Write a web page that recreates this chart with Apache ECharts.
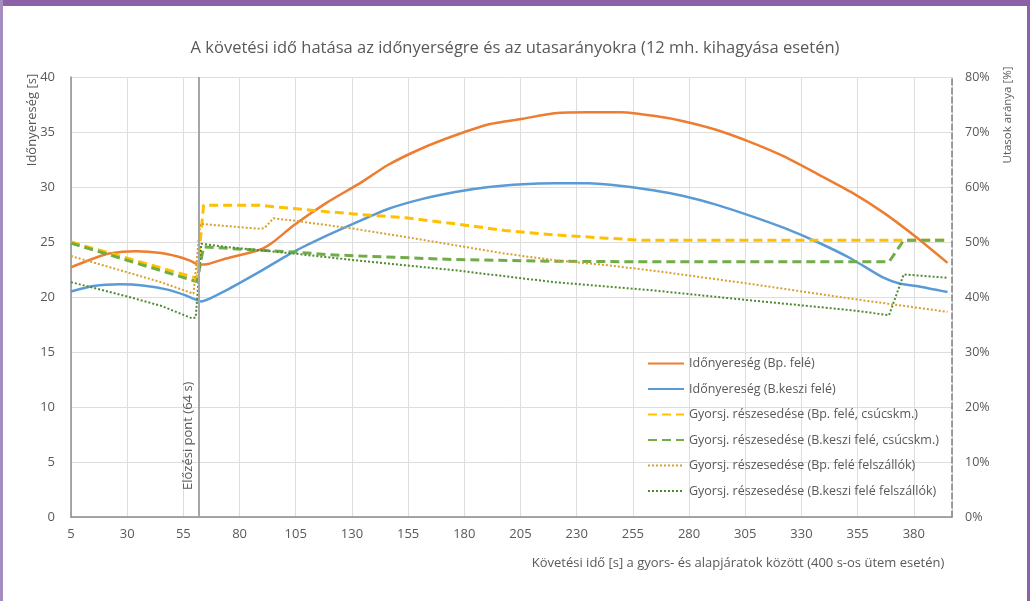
<!DOCTYPE html>
<html>
<head>
<meta charset="utf-8">
<script src="https://cdn.jsdelivr.net/npm/echarts@6/dist/echarts.min.js"></script>
<style>
    html, body { margin: 0; padding: 0; background: #fff; }
    #wrap { position: relative; width: 1030px; height: 601px; overflow: hidden; }
    #myChart { position: absolute; left: 0; top: 0; width: 1030px; height: 601px; }
    .edge { position: absolute; background: #8c61a8; pointer-events: none; }
</style>
</head>
<body>
<div id="wrap">
    <div id="myChart"></div>
    <div class="edge" style="left:0; top:0; width:1030px; height:6px;"></div>
    <div class="edge" style="left:0; top:0; width:3px; height:601px; background:#a58cc0;"></div>
    <div class="edge" style="right:0; top:0; width:3px; height:601px;"></div>
</div>
<script>
    // kovetesi ido [s] -> ertek
    const elozesiPont = 62; // where the vertical line sits in the picture
    const seriesNames = [
        'Időnyereség (Bp. felé)',
        'Időnyereség (B.keszi felé)',
        'Gyorsj. részesedése (Bp. felé, csúcskm.)',
        'Gyorsj. részesedése (B.keszi felé, csúcskm.)',
        'Gyorsj. részesedése (Bp. felé felszállók)',
        'Gyorsj. részesedése (B.keszi felé felszállók)'
    ];

    // idonyereseg [s], left axis
    const nyeresegBp = [
        [5, 22.7], [15, 23.5], [22, 23.95], [34, 24.15], [45, 24.0], [52, 23.7], [58, 23.3], [62, 22.95],
        [66, 23.0], [74, 23.5], [89, 24.3], [95, 25.0], [104, 26.5], [119, 28.6], [134, 30.4],
        [146, 32.0], [161, 33.5], [176, 34.7], [191, 35.7], [206, 36.2], [220, 36.7], [235, 36.8],
        [250, 36.8], [265, 36.45], [277, 36.0], [292, 35.2], [307, 34.1], [322, 32.8], [337, 31.2],
        [352, 29.55], [367, 27.6], [381, 25.45], [395, 23.1]
    ];
    const nyeresegBk = [
        [5, 20.5], [15, 21.0], [27, 21.15], [37, 21.05], [48, 20.67], [56, 20.15], [63, 19.6],
        [74, 20.6], [89, 22.3], [104, 24.1], [119, 25.6], [131, 26.7], [146, 28.0], [161, 28.9],
        [176, 29.55], [191, 30.0], [206, 30.25], [220, 30.33], [235, 30.33], [250, 30.1], [264, 29.7],
        [277, 29.2], [292, 28.4], [307, 27.4], [322, 26.3], [337, 25.0], [352, 23.5], [366, 21.8],
        [374, 21.2], [381, 21.0], [395, 20.45]
    ];

    // reszesedes [%], right axis
    const csucsBp = [
        [5, 50.0], [61, 43.4], [64, 56.7], [89, 56.7], [95, 56.4], [104, 56.1], [119, 55.5],
        [134, 55.0], [154, 54.4], [176, 53.3], [198, 52.1], [220, 51.3], [243, 50.7], [260, 50.3],
        [395, 50.3]
    ];
    const csucsBk = [
        [5, 49.8], [61, 42.8], [64, 49.1], [89, 48.5], [104, 48.2], [119, 47.7], [134, 47.45],
        [176, 46.8], [220, 46.5], [260, 46.4], [369, 46.4], [375.5, 50.3], [395, 50.3]
    ];
    const felszBp = [
        [5, 47.45], [30, 44.5], [45, 42.7], [59.5, 40.6], [62.5, 53.3], [89, 52.4], [91, 52.5],
        [95, 54.3], [104, 53.9], [131, 52.4], [154, 50.9], [176, 49.4], [198, 47.9], [220, 46.7],
        [243, 45.8], [264, 44.8], [307, 42.4], [352, 39.7], [395, 37.3]
    ];
    const felszBk = [
        [5, 42.7], [30, 40.1], [45, 38.4], [59, 36.1], [60.5, 36.3], [63, 49.7], [74, 49.1],
        [89, 48.5], [104, 47.9], [131, 46.7], [176, 44.85], [220, 42.7], [264, 41.2], [307, 39.4],
        [352, 37.6], [369, 36.7], [375.5, 44.1], [395, 43.5]
    ];

    const textColor = '#595959';
    const font = '"Open Sans", "Noto Sans", sans-serif';

    let myChart = echarts.init(document.getElementById('myChart'));

    function line(name, data, color, width, type, yIdx) {
        return {
            name: name,
            type: 'line',
            yAxisIndex: yIdx,
            data: data,
            symbol: 'none',
            showSymbol: false,
            lineStyle: { color: color, width: width, type: type, cap: 'butt' },
            itemStyle: { color: color }
        };
    }

    const series = [
        line(seriesNames[0], nyeresegBp, '#ED7D31', 2.5, 'solid', 0),
        line(seriesNames[1], nyeresegBk, '#5B9BD5', 2.5, 'solid', 0),
        line(seriesNames[2], csucsBp, '#FFC000', 3, [9, 5], 1),
        line(seriesNames[3], csucsBk, '#70AD47', 3, [9, 5], 1),
        line(seriesNames[4], felszBp, '#D9A030', 2, [2, 2], 1),
        line(seriesNames[5], felszBk, '#4E8A30', 2, [2, 2], 1)
    ];
    series[0].smooth = 0.2;
    series[1].smooth = 0.2;
    series[0].markLine = {
        silent: true,
        symbol: 'none',
        animation: false,
        lineStyle: { color: '#A6A6A6', width: 2, type: 'solid' },
        label: {
            show: true,
            formatter: 'Előzési pont (64 s)',
            position: 'insideStartTop',
            distance: [27, 4],
            color: textColor,
            fontFamily: font,
            fontSize: 13
        },
        data: [{ xAxis: elozesiPont }]
    };

    myChart.setOption({
        animation: false,
        textStyle: { fontFamily: font },
        title: {
            text: 'A követési idő hatása az időnyerségre és az utasarányokra (12 mh. kihagyása esetén)',
            left: 'center',
            top: 35,
            textStyle: { color: textColor, fontSize: 16.5, fontWeight: 'normal', fontFamily: font }
        },
        legend: {
            orient: 'vertical',
            left: 642,
            top: 352,
            itemWidth: 36,
            itemHeight: 14,
            itemGap: 12.5,
            data: seriesNames,
            itemStyle: { opacity: 0 },
            textStyle: { color: textColor, fontSize: 12.5, fontFamily: font }
        },
        grid: { left: 71, right: 78, top: 77, bottom: 84, containLabel: false },
        xAxis: {
            type: 'value',
            min: 5,
            max: 397,
            interval: 25,
            axisLine: { show: true, lineStyle: { color: '#8c8c8c', width: 1.5 } },
            axisTick: { show: false },
            axisLabel: { color: textColor, fontSize: 13, margin: 11, showMaxLabel: false },
            splitLine: { show: true, lineStyle: { color: '#dedede', width: 1 } }
        },
        yAxis: [
            {
                type: 'value',
                min: 0,
                max: 40,
                interval: 5,
                axisLine: { show: true, lineStyle: { color: '#8c8c8c', width: 1.5 } },
                axisTick: { show: false },
                axisLabel: { color: textColor, fontSize: 13, margin: 16 },
                splitLine: { show: true, lineStyle: { color: '#dedede', width: 1 } }
            },
            {
                type: 'value',
                min: 0,
                max: 80,
                interval: 10,
                position: 'right',
                axisLine: { show: true, lineStyle: { color: '#7f7f7f', width: 1.5, type: [6, 3] } },
                axisTick: { show: false },
                axisLabel: { color: textColor, fontSize: 12.5, margin: 13, formatter: '{value}%' },
                splitLine: { show: false }
            }
        ],
        graphic: [
            {
                type: 'text', x: 32, y: 120, rotation: Math.PI / 2,
                style: { text: 'Időnyereség [s]', fill: textColor, font: '13px ' + font, align: 'center', verticalAlign: 'middle' }
            },
            {
                type: 'text', x: 1008, y: 115, rotation: Math.PI / 2,
                style: { text: 'Utasok aránya [%]', fill: textColor, font: '11.5px ' + font, align: 'center', verticalAlign: 'middle' }
            },
            {
                type: 'text', x: 738, y: 563,
                style: { text: 'Követési idő [s] a gyors- és alapjáratok között (400 s-os ütem esetén)', fill: textColor, font: '13px ' + font, align: 'center', verticalAlign: 'middle' }
            }
        ],
        series: series
    });
</script>
</body>
</html>
